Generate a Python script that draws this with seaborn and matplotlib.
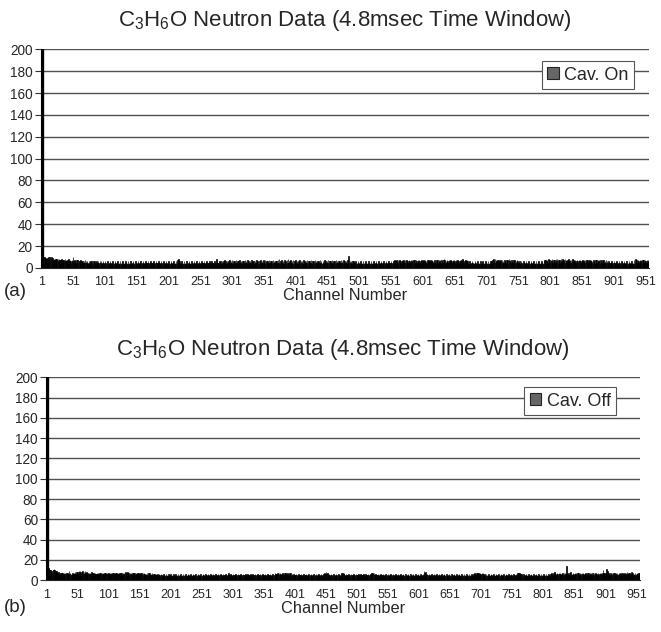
import matplotlib
matplotlib.use("Agg")
import matplotlib.pyplot as plt
import seaborn as sns
import pandas as pd
from matplotlib.patches import Patch

sns.set_theme(style="white")
plt.rcParams['font.family'] = ['Liberation Sans', 'DejaVu Sans']
plt.rcParams['mathtext.fontset'] = 'custom'
plt.rcParams['mathtext.rm'] = 'Liberation Sans'
plt.rcParams['mathtext.default'] = 'regular'

N_CHANNELS = 956
title_text = "C$_3$H$_6$O Neutron Data (4.8msec Time Window)"
xlabel_text = "Channel Number"
legend_on = "Cav. On"
legend_off = "Cav. Off"
tick_values = list(range(1, 952, 50))
y_ticks = [0, 20, 40, 60, 80, 100, 120, 140, 160, 180, 200]

# channels 1-10 (cavitation on)
on_head = [200, 17, 13, 11, 10, 10, 9, 9, 8, 8]
# channels 11.. (one base-36 digit per channel)
on_tail = [
    "9a8a98a897 8786878687 7687676867 6768676576 a676576756",
    "6576565657 6565465656 5465654656 5465645654 6545654565",
    "4564546545 6454654564 5465456454 6545645465 4564546545",
    "6454654564 5465456454 6545645465 4564546545 6454654564",
    "5465748654 6545645465 4564546545 6454654564 5465456454",
    "6545645465 4564586545 6564656575 6465657565 7465657565",
    "6575646565 7565746565 7565646575 6546575657 6575646575",
    "6565756564 6575856575 6474657585 6575647565 7564657565",
    "6475656574 6565746565 7565646575 6546575656 5746565756",
    "4657565646 5756574656 574b565646 5654655465 4564546545",
    "6454654564 5465456454 6545645465 4564546545 6454675676",
    "5767565767 6576756576 5767576757 6576756576 5767565767",
    "6576756576 5767576757 6578756576 5767565767 6576756576",
    "5787565767 6546545654 5465456454 6545645465 4564546567",
    "5868576757 6576756576 5767586757 6576756576 5464654564",
    "5465456454 6545645465 4564546545 6757675867 5768576758",
    "6857675868 5768576758 6757685767 5676576756 5767576757",
    "6576756576 5767576757 6576756576 5465456454 6545645465",
    "4564546545 6454654564 5475867576 5767576757 6576756576",
]

# channels 1-10 (cavitation off)
off_head = [200, 22, 14, 12, 11, 10, 10, 9, 9, 8]
off_tail = [
    "aaba989878 7676757676 7676769676 5676768687 8798978797",
    "8697867676 7686767676 6767676767 6767676767 7676767676",
    "6767676767 6757676867 8676767576 7675767576 6757675765",
    "6575767565 7565656546 5654655465 4564546545 6454654564",
    "5465456454 6545645465 4564546545 6454654564 5465456454",
    "6545645465 4564546545 6454654564 5467456454 6545645465",
    "4564546545 6454654564 5465456454 6545645465 4564546545",
    "6454654576 6576757656 7657676576 5767565465 4564546545",
    "6454654564 5465456454 6545645465 4564546576 8676565465",
    "4564546545 6454675767 5465456454 6545645465 4564546545",
    "6454654564 5467676754 6545645465 4564546545 6454654564",
    "5465456454 6545645465 4564546545 6454654564 5465456497",
    "8656456454 6545645465 4564546545 6454654564 5465456454",
    "6545645465 4564546545 6454654567 6576757676 5767565465",
    "4564546545 6454654564 5465456454 6545645465 4564546576",
    "7576565465 4564546545 6454654564 5465456454 6545645465",
    "4567657687 5676576756 5767576e57 6576856576 5767576757",
    "6576756576 5767576757 6576756576 576757a767 68b9676576",
    "5767576757 6576756576 5767586757 6586756576 5767576757",
]


def build(head, tail):
    digits = "".join(tail).replace(" ", "")
    vals = head + [int(c, 36) for c in digits]
    vals = vals[:N_CHANNELS]
    return pd.DataFrame({"channel": list(range(1, len(vals) + 1)), "counts": vals})


df_on = build(on_head, on_tail)
df_off = build(off_head, off_tail)

fig = plt.figure(figsize=(6.61, 6.32), dpi=100)
ax_a = fig.add_axes([0.062, 0.576, 0.920, 0.346])
ax_b = fig.add_axes([0.070, 0.082, 0.898, 0.321])

panels = [
    (ax_a, df_on, legend_on, (0.975, 0.945), "(a)", 0.538, 17),
    (ax_b, df_off, legend_off, (0.96, 0.951), "(b)", 0.038, 16),
]

for ax, df, lab, anchor, tag, tag_y, tpad in panels:
    sns.barplot(data=df, x="channel", y="counts", color="black", saturation=1,
                width=0.9, linewidth=0.5, edgecolor="black", errorbar=None,
                ax=ax, zorder=3)
    # the first (tall) bar is drawn with a heavier outline, as in the original
    ax.patches[0].set_linewidth(2.4)
    ax.set_ylim(0, 200)
    ax.set_xlim(-0.5, len(df) - 0.5)
    ax.set_yticks(y_ticks)
    ax.set_yticklabels([str(v) for v in y_ticks], fontsize=9.8)
    ax.set_xticks([v - 1 for v in tick_values])
    ax.set_xticklabels([str(v) for v in tick_values], fontsize=9)
    ax.tick_params(axis='x', length=0, pad=6)
    ax.tick_params(axis='y', length=4, width=0.8, color='#333333', pad=2, left=True)
    ax.yaxis.grid(True, color='#505050', linewidth=1.0, zorder=0)
    ax.xaxis.grid(False)
    ax.set_axisbelow(True)
    for s in ['top', 'right']:
        ax.spines[s].set_visible(False)
    ax.spines['left'].set_color('#333333')
    ax.spines['bottom'].set_color('#222222')
    ax.spines['left'].set_linewidth(0.8)
    ax.spines['bottom'].set_linewidth(0.8)
    ax.set_ylabel("")
    ax.set_xlabel(xlabel_text, fontsize=11.8, labelpad=0)
    ax.set_title(title_text, fontsize=16, pad=tpad)
    handle = Patch(facecolor='#666666', edgecolor='#222222', linewidth=0.8)
    leg = ax.legend([handle], [lab], loc='upper right', bbox_to_anchor=anchor,
                    fontsize=13, frameon=True, fancybox=False, framealpha=1,
                    edgecolor='#555555', handlelength=0.65, handleheight=0.65,
                    handletextpad=0.3, borderpad=0.3, borderaxespad=0)
    leg.get_frame().set_linewidth(0.8)
    fig.text(0.006, tag_y, tag, fontsize=13.5, va='center', ha='left')

fig.savefig("out.png", dpi=100, facecolor='white')
